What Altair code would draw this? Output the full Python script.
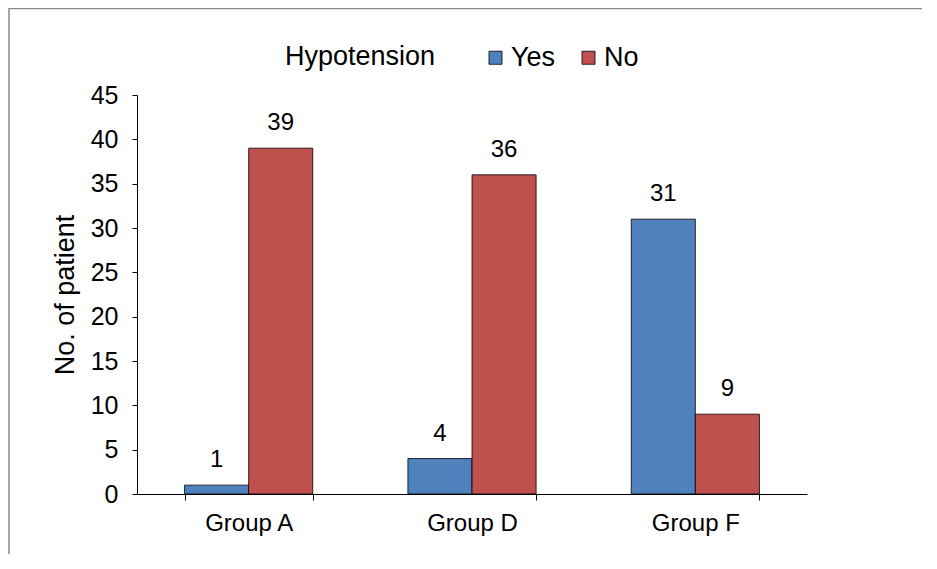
import altair as alt
import pandas as pd

groups = ["Group A", "Group D", "Group F"]
hypotension = ["Yes", "No"]
yes_values = [1, 4, 31]
no_values = [39, 36, 9]
y_ticks = [0, 5, 10, 15, 20, 25, 30, 35, 40, 45]

rows = []
for g, y, n in zip(groups, yes_values, no_values):
    rows.append({"group": g, "Hypotension": "Yes", "count": y})
    rows.append({"group": g, "Hypotension": "No", "count": n})
df = pd.DataFrame(rows)

FONT = "Liberation Sans"

x_enc = alt.X(
    "group:N",
    sort=groups,
    scale=alt.Scale(paddingInner=0.426, paddingOuter=0.213),
    axis=alt.Axis(
        title=None,
        tickBand="extent",
        labelAngle=0,
        labelFontSize=24,
        labelPadding=11,
        tickSize=6,
        domainColor="black",
        tickColor="black",
        labelColor="black",
        labelFont=FONT,
    ),
)
xoff = alt.XOffset("Hypotension:N", sort=hypotension, scale=alt.Scale(paddingInner=0, paddingOuter=0))
y_enc = alt.Y(
    "count:Q",
    scale=alt.Scale(domain=[0, 45], nice=False),
    axis=alt.Axis(
        title="No. of patient",
        values=y_ticks,
        grid=False,
        labelFontSize=25,
        labelPadding=14,
        tickSize=5,
        titleFontSize=27,
        titleFontWeight="normal",
        titlePadding=11,
        titleFont=FONT,
        labelFont=FONT,
        domainColor="black",
        tickColor="black",
        labelColor="black",
        titleColor="black",
    ),
)

bars = alt.Chart(df).mark_bar(stroke="black", strokeWidth=0.8).encode(
    x=x_enc,
    xOffset=xoff,
    y=y_enc,
    color=alt.Color(
        "Hypotension:N",
        sort=hypotension,
        scale=alt.Scale(domain=hypotension, range=["#4F81BD", "#C0504D"]),
        legend=alt.Legend(
            orient="none",
            direction="horizontal",
            legendX=148,
            legendY=-51,
            titleOrient="left",
            titleFontSize=27,
            titleFontWeight="normal",
            titleFont=FONT,
            titleColor="black",
            titlePadding=46,
            titleBaseline="middle",
            labelFontSize=27,
            labelFont=FONT,
            labelColor="black",
            labelOffset=2,
            symbolType="square",
            symbolSize=170,
            symbolStrokeColor="black",
            symbolStrokeWidth=0.8,
            columnPadding=19,
        ),
    ),
)

labels = alt.Chart(df).mark_text(
    baseline="bottom", dy=-13, fontSize=24, font=FONT, color="black"
).encode(
    x=alt.X("group:N", sort=groups),
    xOffset=xoff,
    y=alt.Y("count:Q"),
    text="count:Q",
)

frame = alt.Chart(pd.DataFrame({"a": [0]})).mark_rect(
    fill=None, stroke="#888888", strokeWidth=1.5, clip=False
).encode(
    x=alt.value(-128),
    x2=alt.value(2000),
    y=alt.value(-86.5),
    y2=alt.value(2000),
)

chart = alt.layer(bars, labels, frame).properties(
    width=670,
    height=399,
    autosize=alt.AutoSizeParams(type="none"),
    padding={"left": 129, "top": 87, "right": 115, "bottom": 60},
).configure_view(stroke=None).configure_axisX(domainWidth=1).configure_axisY(domainWidth=1)

chart.save("out.html", embed_options={"renderer": "svg", "actions": False})
